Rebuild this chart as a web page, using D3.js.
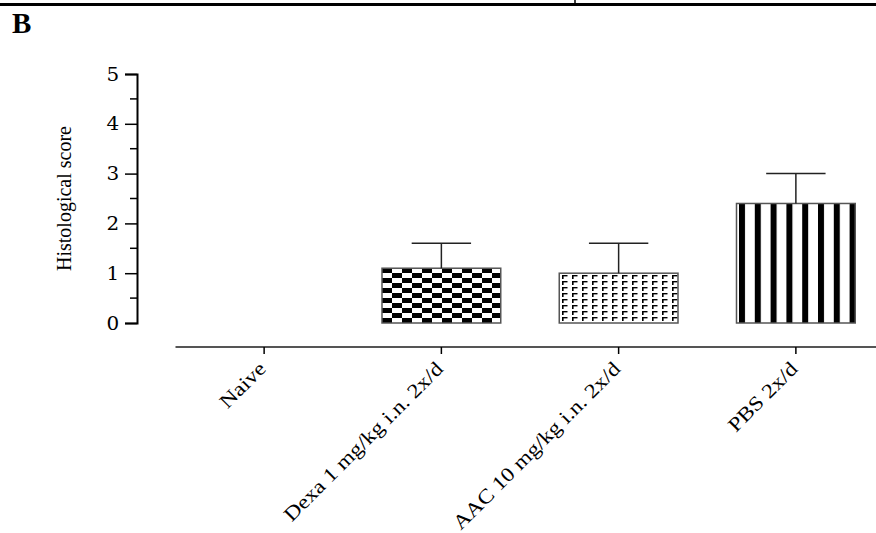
<!DOCTYPE html>
<html>
<head>
<meta charset="utf-8">
<script src="https://cdn.jsdelivr.net/npm/d3@7.9.0/dist/d3.min.js"></script>
<style>
  body { margin: 0; background: #fff; }
  svg { display: block; }
  text { font-family: "Liberation Serif", "Times New Roman", serif; fill: #000; }
</style>
</head>
<body>
<svg id="chart" width="876" height="533"></svg>
<script>
// data
const groups = ['Naive', 'Dexa 1 mg/kg i.n. 2x/d', 'AAC 10 mg/kg i.n. 2x/d', 'PBS 2x/d'];
const means = [0, 1.1, 1.0, 2.4];
const errs = [0, 0.5, 0.6, 0.6];
const fills = ['none', 'url(#checker)', 'url(#dashes)', 'url(#stripes)'];
const yTicks = [0, 1, 2, 3, 4, 5];
const yMinor = [0.5, 1.5, 2.5, 3.5, 4.5];

const svg = d3.select('#chart');

// patterns
const defs = svg.append('defs');
const checker = defs.append('pattern')
  .attr('id', 'checker').attr('patternUnits', 'userSpaceOnUse')
  .attr('width', 20).attr('height', 10).attr('x', 382).attr('y', 268);
checker.append('rect').attr('width', 20).attr('height', 10).attr('fill', '#fff');
checker.append('rect').attr('x', 0).attr('y', 0).attr('width', 10).attr('height', 5).attr('fill', '#000');
checker.append('rect').attr('x', 10).attr('y', 5).attr('width', 10).attr('height', 5).attr('fill', '#000');

const dashes = defs.append('pattern')
  .attr('id', 'dashes').attr('patternUnits', 'userSpaceOnUse')
  .attr('width', 10).attr('height', 6).attr('x', 561).attr('y', 274);
dashes.append('rect').attr('width', 10).attr('height', 6).attr('fill', '#fff');
dashes.append('rect').attr('x', 1).attr('y', 1).attr('width', 1.6).attr('height', 4).attr('fill', '#000');
dashes.append('rect').attr('x', 1).attr('y', 1).attr('width', 5.5).attr('height', 1.4).attr('fill', '#000');

const stripes = defs.append('pattern')
  .attr('id', 'stripes').attr('patternUnits', 'userSpaceOnUse')
  .attr('width', 15.8).attr('height', 10).attr('x', 739).attr('y', 0);
stripes.append('rect').attr('width', 15.8).attr('height', 10).attr('fill', '#fff');
stripes.append('rect').attr('x', 0).attr('width', 6).attr('height', 10).attr('fill', '#000');

// top rule of the page
svg.append('line').attr('x1', 0).attr('x2', 876).attr('y1', 4.5).attr('y2', 4.5)
  .attr('stroke', '#000').attr('stroke-width', 3);
svg.append('line').attr('x1', 575).attr('x2', 575).attr('y1', 0).attr('y2', 4)
  .attr('stroke', '#000').attr('stroke-width', 1.5);

svg.append('text').attr('x', 12).attr('y', 33)
  .style('font-size', '29px').style('font-weight', 'bold').text('B');

// scales
const y = d3.scaleLinear().domain([0, 5]).range([323, 74]);
const x = d3.scaleBand().domain(groups).range([175.5, 884.5])
  .paddingInner(0.33).paddingOuter(0.165);

// y axis
const yAxis = svg.append('g').attr('transform', 'translate(137,0)')
  .call(d3.axisLeft(y).tickValues(yTicks).tickFormat(d3.format('d'))
    .tickSize(12).tickPadding(5));
yAxis.select('.domain').attr('stroke', '#000').attr('stroke-width', 2);
yAxis.selectAll('.tick line').attr('stroke', '#000').attr('stroke-width', 1.5);
yAxis.selectAll('.tick text')
  .style('font-size', '19px').style('font-family', '"DejaVu Serif", serif')
  .attr('transform', 'scale(1.05,1)');
yAxis.selectAll('.minor').data(yMinor).enter().append('line')
  .attr('class', 'minor')
  .attr('x1', -7).attr('x2', 0)
  .attr('y1', d => y(d)).attr('y2', d => y(d))
  .attr('stroke', '#000').attr('stroke-width', 1.5);

svg.append('text')
  .attr('transform', `translate(71,${(y(0) + y(5)) / 2}) rotate(-90)`)
  .attr('text-anchor', 'middle')
  .style('font-size', '20px')
  .text('Histological score');

// x axis
const xAxisY = 347;
svg.append('line').attr('x1', x.range()[0]).attr('x2', 876)
  .attr('y1', xAxisY).attr('y2', xAxisY)
  .attr('stroke', '#555').attr('stroke-width', 2);
svg.selectAll('.xtick').data(groups).enter().append('line')
  .attr('class', 'xtick')
  .attr('x1', d => x(d) + x.bandwidth() / 2).attr('x2', d => x(d) + x.bandwidth() / 2)
  .attr('y1', xAxisY).attr('y2', xAxisY + 7)
  .attr('stroke', '#000').attr('stroke-width', 1.5);

const labels = svg.selectAll('.xlabel').data(groups).enter().append('text')
  .attr('class', 'xlabel')
  .attr('text-anchor', 'end')
  .style('font-size', '20px')
  .attr('transform', d => `translate(${x(d) + x.bandwidth() / 2 + 3},370) rotate(-45)`)
  .text(d => d);
labels.each(function () {
  const len = this.getComputedTextLength();
  d3.select(this).attr('textLength', len * 1.17).attr('lengthAdjust', 'spacingAndGlyphs');
});

// bars
const barData = groups.map((g, i) => ({ g, m: means[i], e: errs[i], f: fills[i] }));
svg.selectAll('.bar').data(barData.filter(d => d.m > 0)).enter().append('rect')
  .attr('class', 'bar')
  .attr('x', d => x(d.g))
  .attr('width', x.bandwidth())
  .attr('y', d => y(d.m))
  .attr('height', d => y(0) - y(d.m))
  .attr('fill', d => d.f)
  .attr('stroke', '#555').attr('stroke-width', 1.5);

// error bars (upper only)
const eb = svg.selectAll('.err').data(barData.filter(d => d.e > 0)).enter().append('g')
  .attr('class', 'err');
eb.append('line')
  .attr('x1', d => x(d.g) + x.bandwidth() / 2).attr('x2', d => x(d.g) + x.bandwidth() / 2)
  .attr('y1', d => y(d.m)).attr('y2', d => y(d.m + d.e))
  .attr('stroke', '#222').attr('stroke-width', 1.5);
eb.append('line')
  .attr('x1', d => x(d.g) + x.bandwidth() / 4).attr('x2', d => x(d.g) + x.bandwidth() * 3 / 4)
  .attr('y1', d => y(d.m + d.e)).attr('y2', d => y(d.m + d.e))
  .attr('stroke', '#222').attr('stroke-width', 1.5);
</script>
</body>
</html>
